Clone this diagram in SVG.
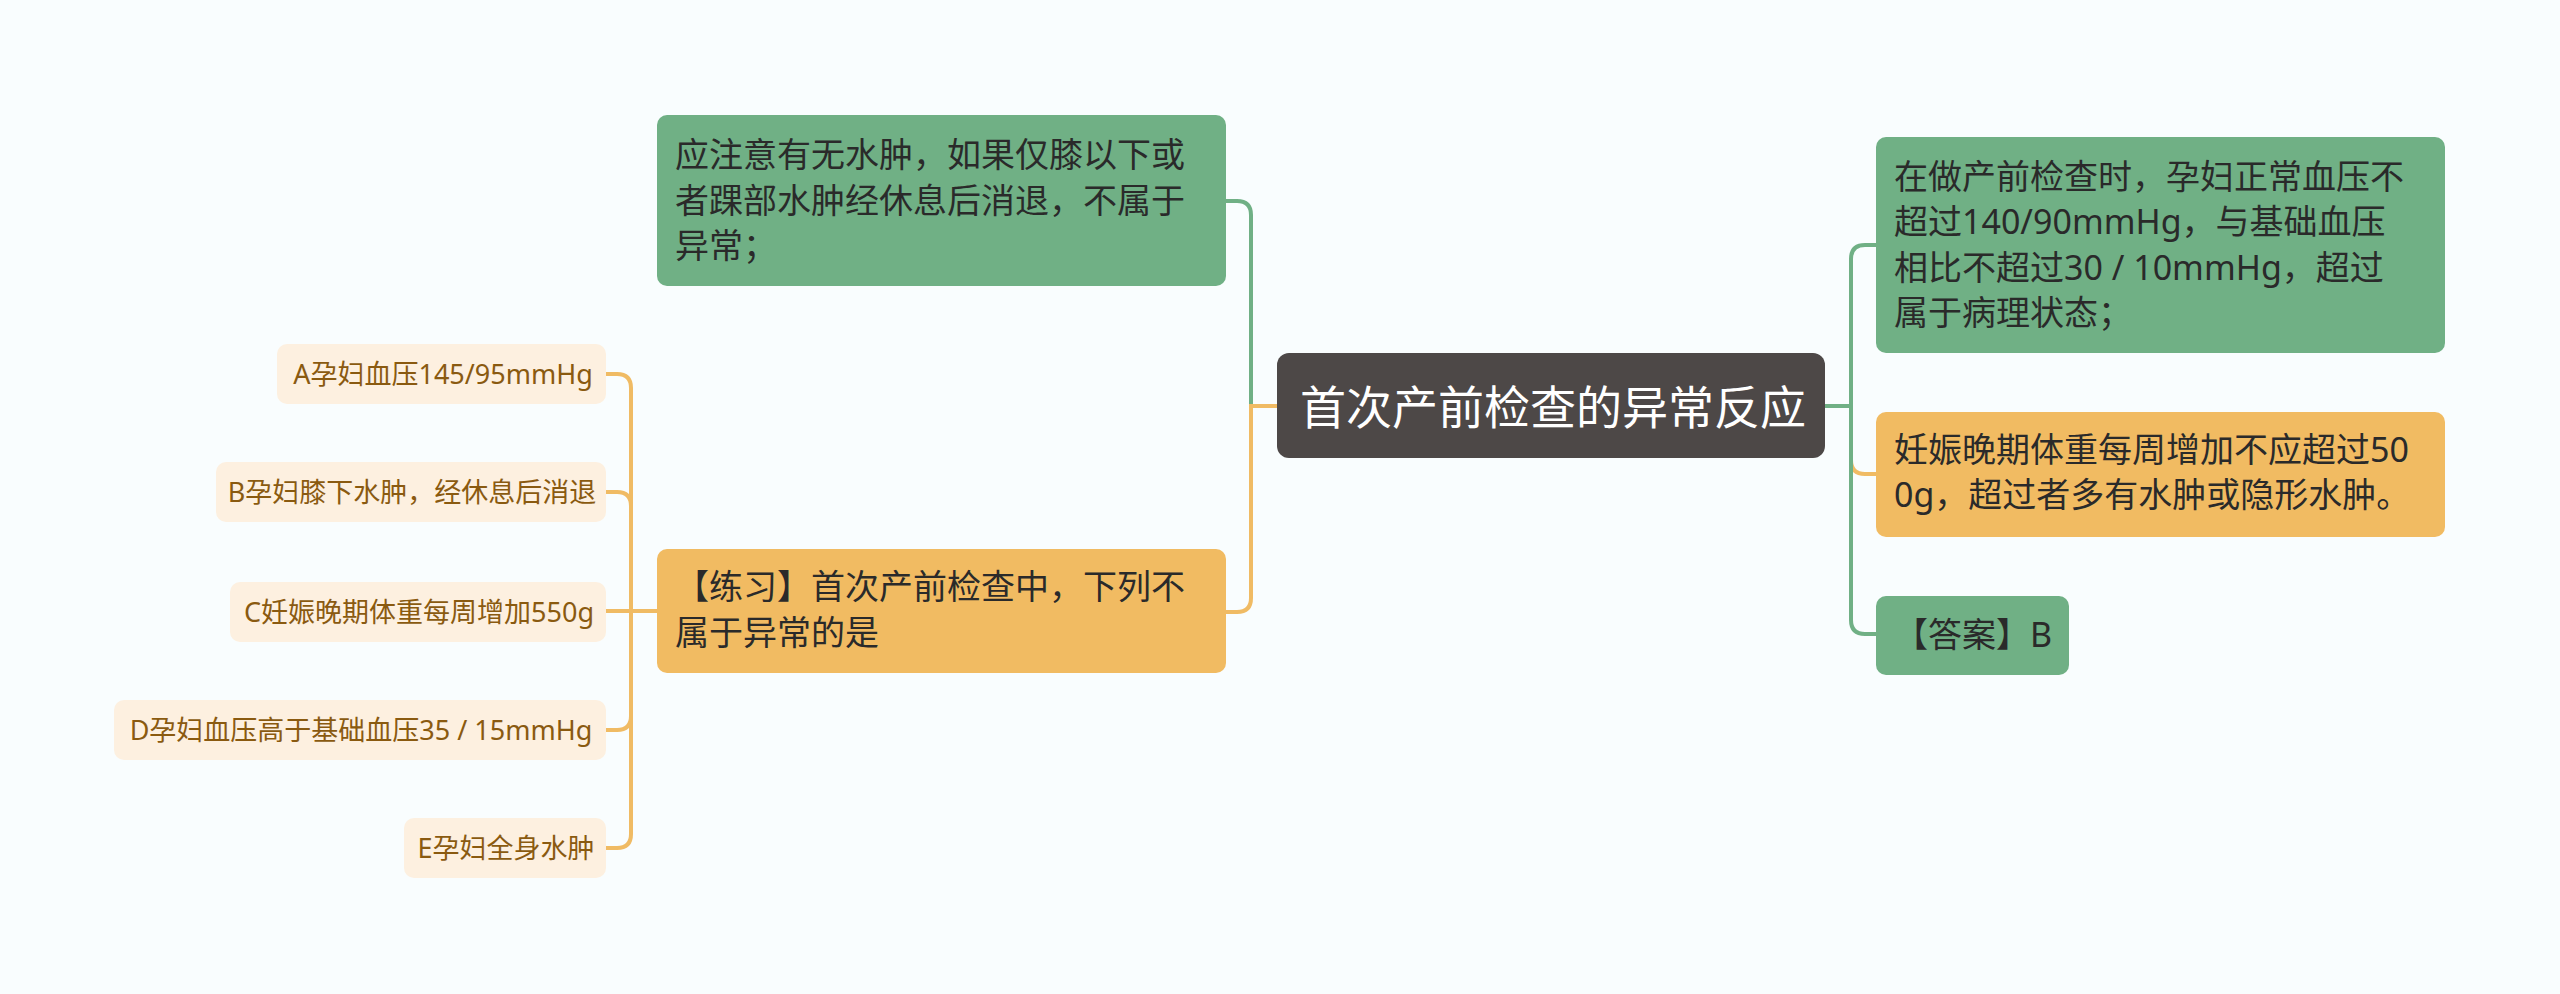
<svg xmlns="http://www.w3.org/2000/svg" width="2560" height="994" viewBox="0 0 2560 994">
<style>
.t{font-family:"Noto Sans","Noto Sans CJK SC",sans-serif;}
.root{font-size:46px;fill:#ffffff;}
.big{font-size:34px;fill:#2a2a2a;}
.small{font-size:27px;fill:#8a5a10;text-anchor:middle;}
.g{fill:#70b085;}
.o{fill:#f1bb62;}
.s{fill:#fdf0e0;}
.lg{fill:none;stroke:#70b085;stroke-width:4;}
.lo{fill:none;stroke:#f0bb64;stroke-width:4;}
</style>
<rect width="2560" height="994" fill="#f9fdfe"/>
<g id="connectors">
<path class="lg" d="M1277 406 H1251 V215 Q1251 201 1237 201 H1225"/>
<path class="lo" d="M1277 406 H1251 V598 Q1251 612 1237 612 H1225"/>
<path class="lo" d="M1825 406 H1851 V460 Q1851 474 1865 474 H1877"/>
<path class="lg" d="M1825 406 H1851 V259 Q1851 245 1865 245 H1877"/>
<path class="lg" d="M1825 406 H1851 V620 Q1851 634 1865 634 H1877"/>
<path class="lo" d="M657 611 H631 V388 Q631 374 617 374 H606"/>
<path class="lo" d="M657 611 H631 V506 Q631 492 617 492 H606"/>
<path class="lo" d="M657 611 H606"/>
<path class="lo" d="M657 611 H631 V716 Q631 730 617 730 H606"/>
<path class="lo" d="M657 611 H631 V834 Q631 848 617 848 H606"/>
</g>
<g id="root">
<rect x="1277" y="353" width="548" height="105" rx="12" fill="#4d4847"/>
<text class="t root" x="1300" y="424">首次产前检查的异常反应</text>
</g>
<g id="note-edema">
<rect class="g" x="657" y="115" width="569" height="171" rx="10"/>
<text class="t big" x="675" y="167">应注意有无水肿，如果仅膝以下或</text>
<text class="t big" x="675" y="213">者踝部水肿经休息后消退，不属于</text>
<text class="t big" x="675" y="258">异常；</text>
</g>
<g id="practice">
<rect class="o" x="657" y="549" width="569" height="124" rx="10"/>
<text class="t big" x="675" y="599">【练习】首次产前检查中，下列不</text>
<text class="t big" x="675" y="645">属于异常的是</text>
</g>
<g id="opt-a">
<rect class="s" x="277" y="344" width="329" height="60" rx="10"/>
<text class="t small" x="443" y="384">A孕妇血压145/95mmHg</text>
</g>
<g id="opt-b">
<rect class="s" x="216" y="462" width="390" height="60" rx="10"/>
<text class="t small" x="412" y="502">B孕妇膝下水肿，经休息后消退</text>
</g>
<g id="opt-c">
<rect class="s" x="230" y="582" width="376" height="60" rx="10"/>
<text class="t small" x="419" y="622">C妊娠晚期体重每周增加550g</text>
</g>
<g id="opt-d">
<rect class="s" x="114" y="700" width="492" height="60" rx="10"/>
<text class="t small" x="361" y="740">D孕妇血压高于基础血压35 / 15mmHg</text>
</g>
<g id="opt-e">
<rect class="s" x="404" y="818" width="202" height="60" rx="10"/>
<text class="t small" x="506" y="858">E孕妇全身水肿</text>
</g>
<g id="note-bp">
<rect class="g" x="1876" y="137" width="569" height="216" rx="10"/>
<text class="t big" x="1894" y="189">在做产前检查时，孕妇正常血压不</text>
<text class="t big" x="1894" y="234">超过140/90mmHg，与基础血压</text>
<text class="t big" x="1894" y="280">相比不超过30 / 10mmHg，超过</text>
<text class="t big" x="1894" y="325">属于病理状态；</text>
</g>
<g id="note-weight">
<rect class="o" x="1876" y="412" width="569" height="125" rx="10"/>
<text class="t big" x="1894" y="462">妊娠晚期体重每周增加不应超过50</text>
<text class="t big" x="1894" y="507">0g，超过者多有水肿或隐形水肿。</text>
</g>
<g id="answer">
<rect class="g" x="1876" y="596" width="193" height="79" rx="10"/>
<text class="t big" x="1894" y="647">【答案】B</text>
</g>
</svg>
